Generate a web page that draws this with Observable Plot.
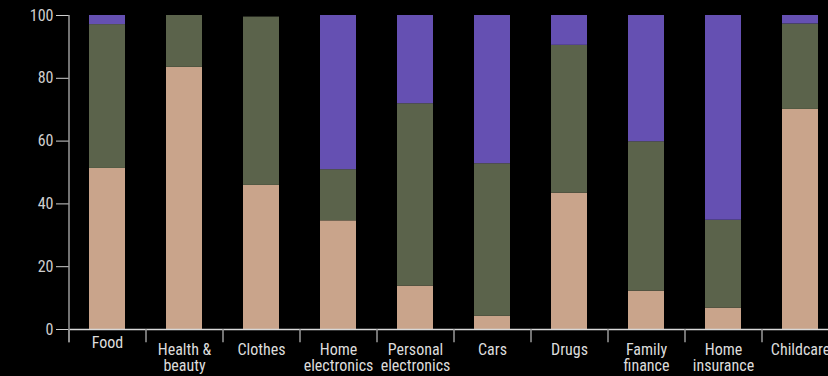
<!DOCTYPE html>
<html>
<head>
<meta charset="utf-8">
<script src="https://cdn.jsdelivr.net/npm/d3@7"></script>
<script src="https://cdn.jsdelivr.net/npm/@observablehq/plot@0.6"></script>
<style>
  html, body { margin: 0; padding: 0; background: #000; }
  #chart { width: 828px; height: 376px; overflow: hidden; }
</style>
</head>
<body>
<div id="chart"></div>
<script>
const categories = ["Food", "Health & beauty", "Clothes", "Home electronics", "Personal electronics", "Cars", "Drugs", "Family finance", "Home insurance", "Childcare"];
const tickLabels = ["Food", "Health &\nbeauty", "Clothes", "Home\nelectronics", "Personal\nelectronics", "Cars", "Drugs", "Family\nfinance", "Home\ninsurance", "Childcare"];
const seriesNames = ["Segment 1", "Segment 2", "Segment 3"];
const seriesColors = ["#c9a48b", "#5b634b", "#6550b2"];
const segment1 = [51.3, 83.5, 45.9, 34.6, 13.8, 4.2, 43.4, 12.2, 6.8, 70.1];
const segment2 = [45.8, 16.5, 53.6, 16.3, 58.1, 48.6, 47.1, 47.6, 28.0, 27.2];
const segment3 = [2.9, 0, 0, 49.1, 28.1, 47.2, 9.5, 40.2, 65.2, 2.7];
const yTicks = [0, 20, 40, 60, 80, 100];

const seriesValues = [segment1, segment2, segment3];
const rows = [];
categories.forEach((c, i) => {
  seriesNames.forEach((s, j) => rows.push({category: c, series: s, value: seriesValues[j][i]}));
});
const labelRows = categories.map((c, i) => ({category: c, label: tickLabels[i]}));

const font = "'Liberation Sans Narrow', 'Arial Narrow', 'Roboto Condensed', sans-serif";

const chart = Plot.plot({
  width: 828,
  height: 376,
  marginTop: 15,
  marginBottom: 47,
  marginLeft: 69,
  marginRight: 0,
  style: {background: "#000", color: "#cfcfcf", fontFamily: font, fontSize: "16px", overflow: "hidden"},
  x: {domain: categories, range: [69, 839], paddingInner: 0.53, paddingOuter: 0.265, axis: null},
  y: {domain: [0, 100], ticks: yTicks, tickSize: 13, tickPadding: 3, label: null},
  color: {domain: seriesNames, range: seriesColors},
  marks: [
    Plot.barY(rows, {x: "category", y: "value", fill: "series"}),
    Plot.ruleY([0], {stroke: "#d8d8d8", strokeWidth: 1.5}),
    Plot.ruleX(categories, {x: d => d, y1: -4.2, y2: 0, dx: -38.5, stroke: "#9a9a9a", strokeWidth: 1.5}),
    Plot.ruleX([categories[0]], {x: d => d, y1: -4.2, y2: 100, dx: -38.5, stroke: "#9a9a9a", strokeWidth: 1.5}),
    Plot.text(labelRows.filter(d => d.category !== "Food"), {x: "category", y: () => 0, text: "label", lineAnchor: "top", dy: 14, fill: "#dcdcdc", fontSize: 16, lineHeight: 1}),
    Plot.text(labelRows.filter(d => d.category === "Food"), {x: "category", y: () => 0, text: "label", lineAnchor: "top", dy: 7.5, fill: "#dcdcdc", fontSize: 16, lineHeight: 1})
  ]
});
document.getElementById("chart").appendChild(chart);
</script>
</body>
</html>
